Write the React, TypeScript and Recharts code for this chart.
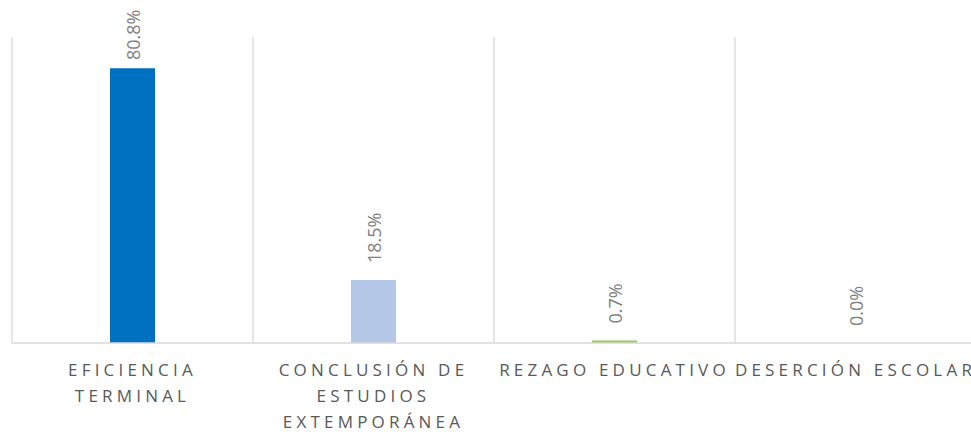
import { ComposedChart, Bar, Line, XAxis, YAxis, CartesianGrid, Cell, LabelList } from "recharts";

const categories = [
  "EFICIENCIA TERMINAL",
  "CONCLUSIÓN DE ESTUDIOS EXTEMPORÁNEA",
  "REZAGO EDUCATIVO",
  "DESERCIÓN ESCOLAR",
];
const tickLines = [
  ["EFICIENCIA", "TERMINAL"],
  ["CONCLUSIÓN DE", "ESTUDIOS", "EXTEMPORÁNEA"],
  ["REZAGO EDUCATIVO"],
  ["DESERCIÓN ESCOLAR"],
];
const values = [0.808, 0.185, 0.007, 0.0];
const barColors = ["#0070C0", "#B4C7E7", "#92D050", "#A5A5A5"];

const data = categories.map((name, i) => ({ name, value: values[i] }));

const FONT = "'Open Sans', 'DejaVu Sans', sans-serif";

function CategoryTick(props: any) {
  const { x, y, payload } = props;
  const idx = categories.indexOf(payload.value);
  const lines = tickLines[idx] || [payload.value];
  return (
    <text
      x={x}
      y={y}
      textAnchor="middle"
      fill="#595959"
      fontSize={17}
      fontFamily={FONT}
      letterSpacing={4.2}
    >
      {lines.map((l, i) => (
        <tspan key={i} x={x} y={y + 33 + i * 26}>
          {l}
        </tspan>
      ))}
    </text>
  );
}

// labels hang off an invisible line so the 0% point still gets one;
// the tallest one gets pushed down so it stays inside the frame
function ValueLabel(props: any) {
  const { x, y, value } = props;
  const cx = x + 7;
  const ty = Math.max(y - 17, 60);
  return (
    <text
      transform={`translate(${cx},${ty}) rotate(-90)`}
      x={0}
      y={0}
      textAnchor="start"
      fill="#7F7F7F"
      fontSize={18}
      fontFamily={FONT}
    >
      {(value * 100).toFixed(1) + "%"}
    </text>
  );
}

export default function App() {
  return (
    <div
      style={{
        position: "absolute",
        left: 0,
        top: 0,
        width: 971,
        height: 435,
        overflow: "hidden",
        background: "#fff",
        fontFamily: FONT,
      }}
    >
      <ComposedChart
        width={1000}
        height={435}
        data={data}
        margin={{ top: 37, right: 24, left: 12, bottom: 0 }}
      >
        <CartesianGrid
          horizontal={false}
          stroke="#D9D9D9"
          strokeWidth={1.3}
          verticalCoordinatesGenerator={({ offset }: any) =>
            [0, 1, 2, 3, 4].map((i) => offset.left + (i * offset.width) / 4)
          }
        />
        <XAxis
          dataKey="name"
          height={92}
          interval={0}
          tickLine={false}
          tickSize={0}
          tickMargin={0}
          axisLine={{ stroke: "#D9D9D9", strokeWidth: 1.3 }}
          tick={<CategoryTick />}
        />
        <YAxis hide domain={[0, 0.9]} />
        <Bar dataKey="value" barSize={45} isAnimationActive={false}>
          {data.map((d, i) => (
            <Cell key={d.name} fill={barColors[i]} />
          ))}
        </Bar>
        <Line
          dataKey="value"
          stroke="none"
          dot={false}
          activeDot={false}
          isAnimationActive={false}
        >
          <LabelList dataKey="value" content={<ValueLabel />} />
        </Line>
      </ComposedChart>
    </div>
  );
}
